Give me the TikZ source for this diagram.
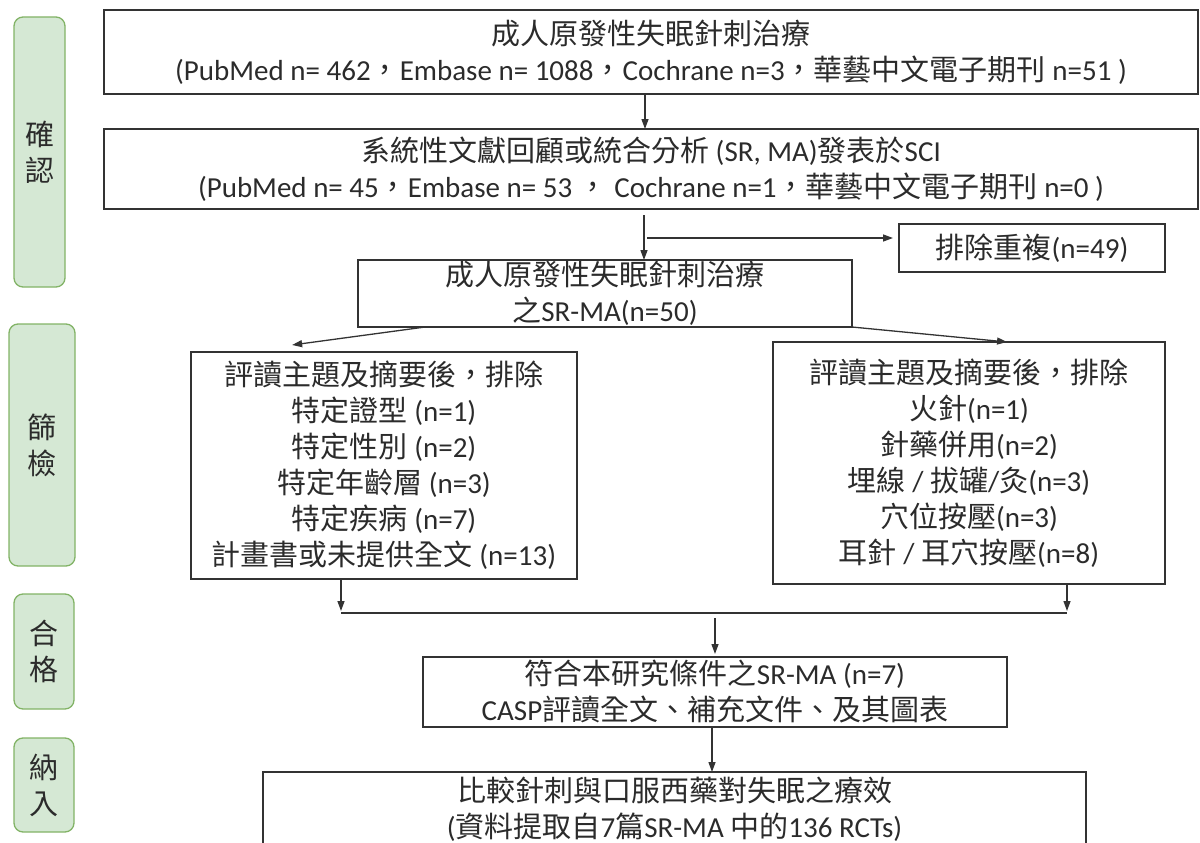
\documentclass[tikz,border=0pt]{standalone}
\usepackage{fontspec}
\setmainfont{Carlito}
\newfontfamily\cjk{Noto Sans CJK TC}
\newcommand{\zh}[1]{{\cjk #1}}
\usepackage{xcolor}
\definecolor{boxLine}{HTML}{333333}
\definecolor{boxText}{HTML}{2B2B2B}
\definecolor{phaseFill}{HTML}{D5E8D4}
\definecolor{phaseLine}{HTML}{82B366}
\usetikzlibrary{arrows.meta, positioning, calc}

\begin{document}
\begin{tikzpicture}[
    x=1pt, y=-1pt,
    every node/.style={outer sep=0pt, inner sep=0pt, text=boxText},
    txt/.style={font=\fontsize{29}{36}\selectfont, align=center},
    flowBox/.style={txt, draw=boxLine, line width=1.4pt},
    phaseBox/.style={txt, rounded corners=9pt, draw=phaseLine, fill=phaseFill, line width=1.3pt},
    arr/.style={draw=boxLine, line width=1.3pt, -{Triangle[length=10pt, width=7pt]}}
]
    \useasboundingbox (0,0) rectangle (1200,843);
    \clip (0,0) rectangle (1200,843);

    % Phase labels on the left
    \node (confirm) [phaseBox, minimum width=51pt, minimum height=270pt] at (39.5,152) {\zh{確}\\\zh{認}};
    \node (screen) [phaseBox, minimum width=66pt, minimum height=242pt] at (42,445) {\zh{篩}\\\zh{檢}};
    \node (eligible) [phaseBox, minimum width=60pt, minimum height=115pt] at (44,651.5) {\zh{合}\\\zh{格}};
    \node (include) [phaseBox, minimum width=60pt, minimum height=94pt] at (44,785) {\zh{納}\\\zh{入}};

    % Search results
    \node (search) [flowBox, minimum width=1094pt, minimum height=84pt] at (651,52)
        {\zh{成人原發性失眠針刺治療}\\(PubMed n= 462\zh{，}Embase n= 1088\zh{，}Cochrane n=3\zh{，華藝中文電子期刊} n=51 )};
    \node (review) [flowBox, minimum width=1094pt, minimum height=80pt, below=35pt of search]
        {\zh{系統性文獻回顧或統合分析} (SR, MA)\zh{發表於}SCI\\(PubMed n= 45\zh{，}Embase n= 53 \zh{，} Cochrane n=1\zh{，華藝中文電子期刊} n=0 )};
    \node (dup) [flowBox, minimum width=266pt, minimum height=48pt] at (1032,248) {\zh{排除重複}(n=49)};
    \node (srma) [flowBox, minimum width=494pt, minimum height=67pt] at (605,293.5)
        {\zh{成人原發性失眠針刺治療}\\\zh{之}SR-MA(n=50)};

    % Exclusions after title and abstract
    \node (exclL) [flowBox, minimum width=386pt, minimum height=227pt] at (384,465.5)
        {\zh{評讀主題及摘要後，排除}\\\zh{特定證型} (n=1)\\\zh{特定性別} (n=2)\\\zh{特定年齡層} (n=3)\\\zh{特定疾病} (n=7)\\\zh{計畫書或未提供全文} (n=13)};
    \node (exclR) [flowBox, minimum width=392pt, minimum height=242pt] at (969,463)
        {\zh{評讀主題及摘要後，排除}\\\zh{火針}(n=1)\\\zh{針藥併用}(n=2)\\\zh{埋線} / \zh{拔罐}/\zh{灸}(n=3)\\\zh{穴位按壓}(n=3)\\\zh{耳針} / \zh{耳穴按壓}(n=8)};

    % Eligible and included
    \node (match) [flowBox, minimum width=584pt, minimum height=70pt] at (715,692)
        {\zh{符合本研究條件之}SR-MA (n=7)\\CASP\zh{評讀全文、補充文件、及其圖表}};
    \node (final) [flowBox, minimum width=823pt, minimum height=74pt] at (674.5,809)
        {\zh{比較針刺與口服西藥對失眠之療效}\\(\zh{資料提取自}7\zh{篇}SR-MA \zh{中的}136 RCTs)};
    % box runs on below the page edge
    \draw [draw=boxLine, line width=1.4pt] (final.south west) -- ++(0,30);
    \draw [draw=boxLine, line width=1.4pt] (final.south east) -- ++(0,30);

    % Helper points
    \coordinate (split) at (644,238);
    \coordinate (mergeL) at (341,613);
    \coordinate (mergeR) at (1067,613);

    % Connect lines
    \draw [arr] ($(search.south)+(-6,0)$) -- ($(review.north)+(-6,0)$);
    \draw [arr, shorten <=6pt] (review.south -| split) -- (srma.north -| split);
    \draw [arr, shorten >=6pt] ([xshift=3pt]split) -- (split -| dup.west);
    \draw [arr] ($(srma.south west)!0.136!(srma.south east)$) -- ($(exclL.north west)!0.262!(exclL.north east)+(0,-7)$);
    \draw [arr] (srma.south east) -- ($(exclR.north west)!0.597!(exclR.north east)$);
    \draw [arr, shorten >=2pt] (exclL.south -| mergeL) -- (mergeL);
    \draw [arr, shorten >=2pt] (exclR.south -| mergeR) -- (mergeR);
    \draw [draw=boxLine, line width=1.3pt] (mergeL) -- (mergeR);
    \draw [arr, shorten <=5pt, shorten >=3pt] (mergeL -| match.north) -- (match.north);
    \draw [arr] ($(match.south)+(-3,0)$) -- ($(final.north -| match.south)+(-3,0)$);
\end{tikzpicture}
\end{document}
